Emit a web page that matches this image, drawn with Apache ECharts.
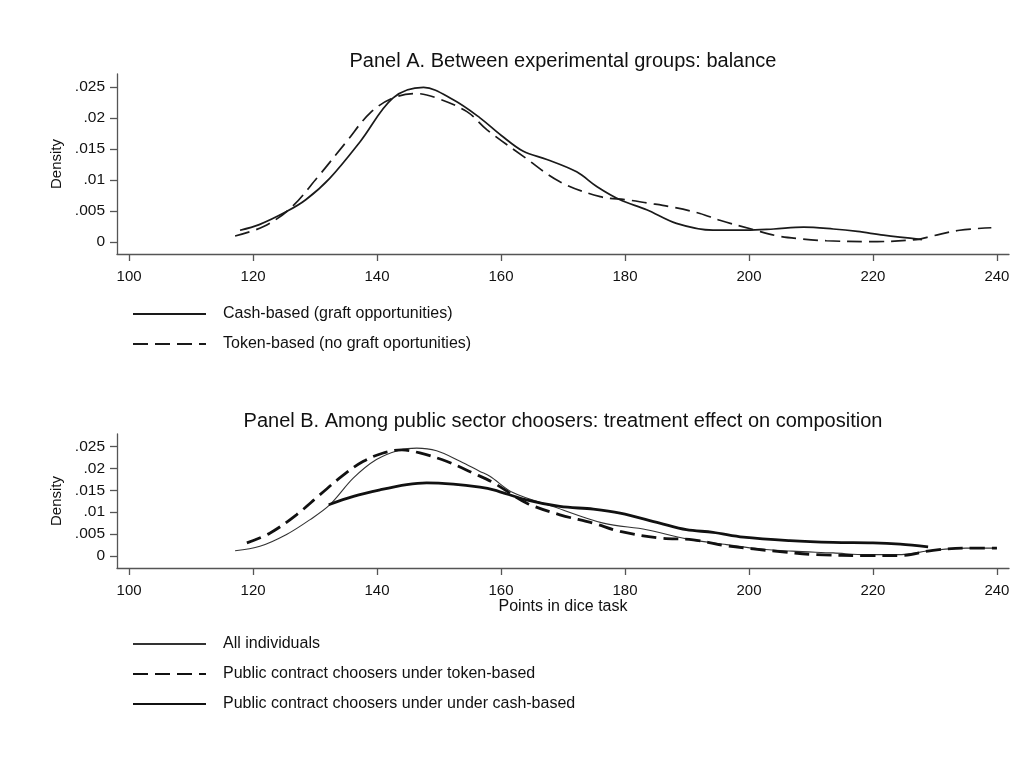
<!DOCTYPE html>
<html>
<head>
<meta charset="utf-8">
<script src="https://cdn.jsdelivr.net/npm/echarts@6/dist/echarts.min.js"></script>
<style>
html,body{margin:0;padding:0;background:#fff;}
#chart{width:1034px;height:758px;}
</style>
</head>
<body>
<div id="chart"></div>
<script>
// ---- Data ----
const xTicks = [100, 120, 140, 160, 180, 200, 220, 240];
const yTicks = [0, 0.005, 0.01, 0.015, 0.02, 0.025];

const titleA = 'Panel A. Between experimental groups: balance';
const titleB = 'Panel B. Among public sector choosers: treatment effect on composition';
const xAxisTitle = 'Points in dice task';
const yAxisTitle = 'Density';

// Panel A: Cash-based (graft opportunities)
const cashA_x = [117.9, 121, 125.4, 128.5, 132.4, 137.3, 142.6, 147.5, 152.3, 156.6, 160, 163.6, 167.4, 172.2, 175.5, 179.2, 183.5, 188.3, 194.2, 199.6, 204, 208.8, 213.6, 217.5, 221.7, 227.9];
const cashA_y = [0.0019, 0.0028, 0.0049, 0.0068, 0.0103, 0.0162, 0.0232, 0.0249, 0.0229, 0.0200, 0.0172, 0.0146, 0.0133, 0.0113, 0.0089, 0.0068, 0.0052, 0.0030, 0.0019, 0.0019, 0.0021, 0.0024, 0.0021, 0.0017, 0.0011, 0.0004];

// Panel A: Token-based (no graft oportunities)
const tokenA_x = [117.1, 121.7, 126, 130.3, 135.1, 138.9, 142.6, 146.4, 149.6, 154.5, 157.7, 163.6, 169.5, 176, 180.3, 183.5, 187.8, 192.1, 195.3, 200.7, 204.5, 208.5, 212.5, 219.5, 227, 229.7, 234, 239.1];
const tokenA_y = [0.00097, 0.0025, 0.0054, 0.0103, 0.0162, 0.0208, 0.0232, 0.0239, 0.0232, 0.0210, 0.0181, 0.0138, 0.0097, 0.0073, 0.0068, 0.0063, 0.0056, 0.0046, 0.0035, 0.0020, 0.0010, 0.0005, 0.0002, 0.00005, 0.0004, 0.0010, 0.0019, 0.0023];

// Panel B: All individuals
const allB_x = [117.1, 121.1, 125.4, 129.2, 132.4, 136.2, 139.9, 143.7, 146.4, 149.6, 153.4, 156.6, 158.2, 162, 168.4, 176.5, 183.5, 189.9, 196.4, 201.8, 207, 213.6, 219, 224, 229.7, 235, 240];
const allB_y = [0.0012, 0.0022, 0.0049, 0.0083, 0.0117, 0.0178, 0.0220, 0.0242, 0.0246, 0.0240, 0.0216, 0.0193, 0.0182, 0.0144, 0.0113, 0.0075, 0.0060, 0.0039, 0.0026, 0.0016, 0.0011, 0.0007, 0.0003, 0.0003, 0.0013, 0.0018, 0.0018];

// Panel B: Public contract choosers under token-based
const tokenB_x = [119, 122.7, 127, 130.8, 134.6, 137.8, 141, 144, 146.9, 151.2, 155.5, 158.8, 164.1, 169.5, 174.9, 179.2, 185.6, 191, 196.4, 200.7, 205, 210.9, 219, 224.4, 229.7, 235.1, 240];
const tokenB_y = [0.0030, 0.0052, 0.0094, 0.0140, 0.0185, 0.0216, 0.0235, 0.0242, 0.0235, 0.0216, 0.0189, 0.0167, 0.0121, 0.0094, 0.0075, 0.0056, 0.0041, 0.0037, 0.0023, 0.0016, 0.0010, 0.0003, 0.0001, 0.0001, 0.0013, 0.0018, 0.0018];

// Panel B: Public contract choosers under under cash-based
const cashB_x = [132.2, 136.2, 140.5, 144.8, 148, 152.3, 156.6, 158.8, 164.1, 169.5, 174.9, 179.2, 185.6, 189.9, 194.2, 199.1, 206.6, 213.6, 220, 224.4, 228.9];
const cashB_y = [0.0117, 0.0136, 0.0151, 0.0163, 0.0167, 0.0164, 0.0157, 0.0151, 0.0128, 0.0113, 0.0107, 0.0098, 0.0075, 0.0060, 0.0054, 0.0043, 0.0035, 0.0031, 0.0030, 0.0027, 0.0021];

const legendA = ['Cash-based (graft opportunities)', 'Token-based (no graft oportunities)'];
const legendB = ['All individuals', 'Public contract choosers under token-based', 'Public contract choosers under under cash-based'];

// ---- Build ----
const zip = (xs, ys) => xs.map((x, i) => [x, ys[i]]);
const FONT = '"Liberation Sans", Arial, sans-serif';
const TXT = '#111';
const AX = '#555';

function yFmt(v) { return v === 0 ? '0' : String(+v.toFixed(4)).replace(/^0/, ''); }

function xAxisCfg(gridIndex, withName) {
  return {
    type: 'value', gridIndex: gridIndex,
    min: 98.05, max: 241.95,
    axisLine: { show: true, onZero: false, lineStyle: { color: AX, width: 1.3 } },
    axisTick: { show: true, length: 7, lineStyle: { color: AX, width: 1.3 }, customValues: xTicks },
    axisLabel: { show: true, margin: 15, fontSize: 15, color: TXT, fontFamily: FONT, customValues: xTicks },
    splitLine: { show: false },
    name: withName ? xAxisTitle : '',
    nameLocation: 'middle', nameGap: 29,
    nameTextStyle: { fontSize: 16, color: TXT, fontFamily: FONT }
  };
}
function yAxisCfg(gridIndex, min, max) {
  return {
    type: 'value', gridIndex: gridIndex,
    min: min, max: max,
    axisLine: { show: true, onZero: false, lineStyle: { color: AX, width: 1.3 } },
    axisTick: { show: true, length: 7, lineStyle: { color: AX, width: 1.3 }, customValues: yTicks },
    axisLabel: { show: true, margin: 12, fontSize: 15.5, color: TXT, fontFamily: FONT, formatter: yFmt, customValues: yTicks },
    splitLine: { show: false },
    name: yAxisTitle, nameLocation: 'middle', nameGap: 51, nameRotate: 90,
    nameTextStyle: { fontSize: 15, color: TXT, fontFamily: FONT }
  };
}
function lineSeries(name, xi, data, color, width, dash) {
  return {
    name: name, type: 'line', xAxisIndex: xi, yAxisIndex: xi,
    data: data, smooth: 0.35, symbol: 'none', showSymbol: false,
    lineStyle: { color: color, width: width, type: dash ? [15, 7] : 'solid' },
    itemStyle: { color: color },
    emphasis: { disabled: true }, animation: false
  };
}

const legendCommon = {
  orient: 'vertical', left: 127, itemWidth: 73, itemHeight: 16, itemGap: 14,
  itemStyle: { opacity: 0 },
  textStyle: { fontSize: 16, color: TXT, fontFamily: FONT, lineHeight: 16, padding: [0, 0, 0, 12] },
  selectedMode: false
};

const option = {
  backgroundColor: '#fff',
  animation: false,
  textStyle: { fontFamily: FONT },
  title: [
    { text: titleA, left: 563, textAlign: 'center', top: 51, padding: 0,
      textStyle: { fontSize: 20, fontWeight: 'normal', color: TXT, fontFamily: FONT } },
    { text: titleB, left: 563, textAlign: 'center', top: 411, padding: 0,
      textStyle: { fontSize: 20, fontWeight: 'normal', color: TXT, fontFamily: FONT } }
  ],
  grid: [
    { left: 117, right: 25, top: 74, bottom: 758 - 254, containLabel: false },
    { left: 117, right: 25, top: 434, bottom: 758 - 568, containLabel: false }
  ],
  xAxis: [xAxisCfg(0, false), xAxisCfg(1, true)],
  yAxis: [yAxisCfg(0, -0.00193, 0.02706), yAxisCfg(1, -0.00274, 0.02783)],
  legend: [
    Object.assign({}, legendCommon, { top: 301, data: legendA }),
    Object.assign({}, legendCommon, { top: 631, data: legendB })
  ],
  series: [
    lineSeries(legendA[0], 0, zip(cashA_x, cashA_y), '#1a1a1a', 1.7, false),
    lineSeries(legendA[1], 0, zip(tokenA_x, tokenA_y), '#1a1a1a', 1.7, true),
    lineSeries(legendB[0], 1, zip(allB_x, allB_y), '#333', 1.1, false),
    lineSeries(legendB[1], 1, zip(tokenB_x, tokenB_y), '#111', 2.8, true),
    lineSeries(legendB[2], 1, zip(cashB_x, cashB_y), '#111', 2.8, false)
  ]
};

const chart = echarts.init(document.getElementById('chart'), null, { renderer: 'canvas' });
chart.setOption(option);
</script>
</body>
</html>
